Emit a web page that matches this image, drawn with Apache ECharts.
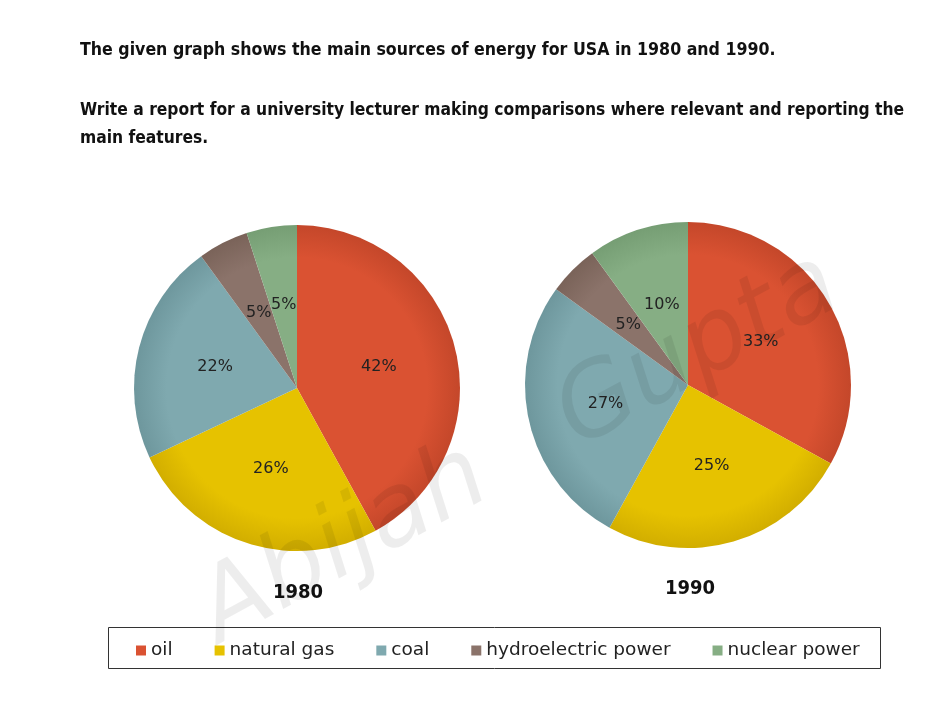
<!DOCTYPE html>
<html>
<head>
<meta charset="utf-8">
<script src="https://cdn.jsdelivr.net/npm/echarts@6/dist/echarts.min.js"></script>
<style>
  html, body { margin: 0; padding: 0; background: #fff; }
  #chart { width: 940px; height: 702px; }
</style>
</head>
<body>
<div id="chart"></div>
<script>
// energy sources, clockwise from 12 o'clock
const sources = ['oil', 'natural gas', 'coal', 'hydroelectric power', 'nuclear power']
const share1980 = [42, 26, 22, 5, 5]
const share1990 = [33, 25, 27, 5, 10]
const years = ['1980', '1990']
const colores = ['#DA5232', '#E6C200', '#7FA9AF', '#8B736A', '#86AE84']
const bordes = ['#C4472A', '#D2AE00', '#6E979D', '#7A6359', '#769E74']

const titleFont = '"DejaVu Sans Condensed", "DejaVu Sans", sans-serif'
const RADIO = 163

function datos(valores, centro) {
  return sources.map((nombre, i) => ({
    name: nombre,
    value: valores[i],
    itemStyle: {
      color: {
        type: 'radial', x: centro[0], y: centro[1], r: RADIO, global: true,
        colorStops: [
          { offset: 0, color: colores[i] },
          { offset: 0.8, color: colores[i] },
          { offset: 1, color: bordes[i] }
        ]
      }
    }
  }))
}

function seriePie(valores, centro) {
  return {
    type: 'pie',
    center: centro,
    radius: RADIO,
    startAngle: 90,
    clockwise: true,
    animation: false,
    silent: true,
    label: {
      show: true,
      position: 'inside',
      formatter: '{c}%',
      color: '#222',
      fontSize: 16,
      fontFamily: 'DejaVu Sans, sans-serif'
    },
    labelLayout: { hideOverlap: false },
    labelLine: { show: false },
    data: datos(valores, centro)
  }
}

const chart = echarts.init(document.getElementById('chart'))

chart.setOption({
  backgroundColor: '#fff',
  graphic: [
    {
      type: 'text', left: 80, top: 41,
      style: {
        text: 'The given graph shows the main sources of energy for USA in 1980 and 1990.',
        font: 'bold 17.6px ' + titleFont, fill: '#111'
      }
    },
    {
      type: 'text', left: 80, top: 97,
      style: {
        text: 'Write a report for a university lecturer making comparisons where relevant and reporting the\nmain features.',
        font: 'bold 17.3px ' + titleFont, fill: '#111', lineHeight: 28
      }
    },
    {
      type: 'text', x: 298, y: 593,
      style: { text: years[0], font: 'bold 20px ' + titleFont, fill: '#111', align: 'center', verticalAlign: 'middle' }
    },
    {
      type: 'text', x: 690, y: 589,
      style: { text: years[1], font: 'bold 20px ' + titleFont, fill: '#111', align: 'center', verticalAlign: 'middle' }
    },
    {
      type: 'rect',
      shape: { x: 108.5, y: 627.5, width: 772, height: 41 },
      style: { fill: 'none', stroke: '#333', lineWidth: 1 }
    },
    {
      type: 'text', x: 520, y: 450, rotation: 0.5, z: 100,
      style: {
        text: 'Abijah   Gupta',
        font: 'italic 200 100px "DejaVu Sans", sans-serif',
        fill: 'rgba(0,0,0,0.07)', align: 'center', verticalAlign: 'middle'
      }
    }
  ],
  legend: {
    data: sources.map((nombre, i) => ({ name: nombre, itemStyle: { color: colores[i] } })),
    left: 131,
    top: 636,
    itemWidth: 10,
    itemHeight: 10,
    itemGap: 42,
    icon: 'rect',
    textStyle: { fontSize: 18.5, color: '#222', fontFamily: 'DejaVu Sans, sans-serif' }
  },
  series: [
    seriePie(share1980, [297, 388]),
    seriePie(share1990, [688, 385])
  ]
})
</script>
</body>
</html>
